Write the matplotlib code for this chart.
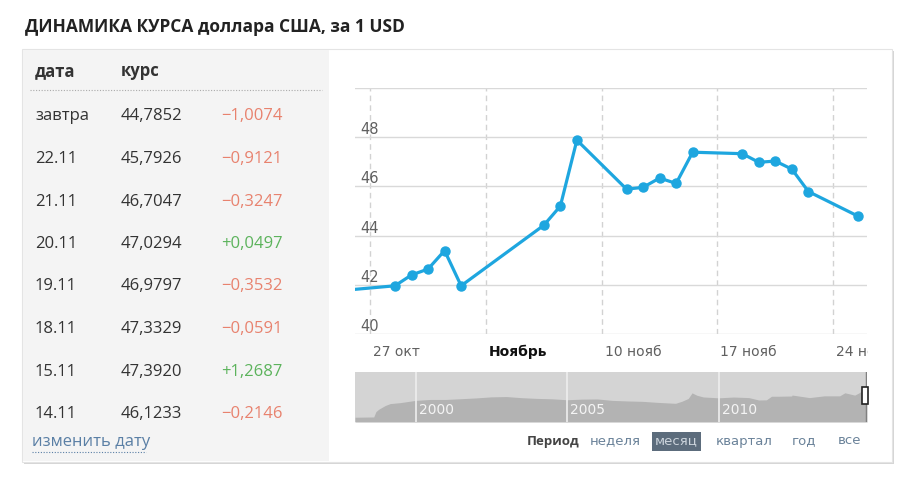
import matplotlib
matplotlib.use("Agg")
import matplotlib.pyplot as plt
import matplotlib.transforms as mtransforms
from matplotlib.patches import Rectangle
import pandas as pd

# ---------------- data ----------------
title = "ДИНАМИКА КУРСА доллара США, за 1 USD"

table_header = ["дата", "курс"]
table_dates = ["завтра", "22.11", "21.11", "20.11", "19.11", "18.11", "15.11", "14.11"]
table_rates = ["44,7852", "45,7926", "46,7047", "47,0294", "46,9797", "47,3329", "47,3920", "46,1233"]
table_changes = ["−1,0074", "−0,9121", "−0,3247", "+0,0497", "−0,3532", "−0,0591", "+1,2687", "−0,2146"]

rate_dates = ["2014-10-25", "2014-10-28", "2014-10-29", "2014-10-30", "2014-10-31", "2014-11-01",
              "2014-11-06", "2014-11-07", "2014-11-08", "2014-11-11", "2014-11-12", "2014-11-13",
              "2014-11-14", "2014-11-15", "2014-11-18", "2014-11-19", "2014-11-20", "2014-11-21",
              "2014-11-22", "2014-11-25"]
rate_values = [41.78, 41.96, 42.40, 42.64, 43.39, 41.96,
               44.42, 45.20, 47.88, 45.89, 45.96, 46.34,
               46.12, 47.39, 47.33, 46.98, 47.03, 46.70,
               45.79, 44.79]

week_ticks = ["2014-10-27", "2014-11-03", "2014-11-10", "2014-11-17", "2014-11-24"]
week_labels = ["27 окт", "Ноябрь", "10 нояб", "17 нояб", "24 нояб"]
y_ticks = [40, 42, 44, 46, 48, 50]
y_labels = ["40", "42", "44", "46", "48", ""]

# long history for the navigator strip
nav_dates = ["1998-01-01", "1998-08-15", "1998-09-10", "1998-10-15", "1998-12-31", "1999-03-01",
             "1999-06-30", "1999-12-31", "2000-06-30", "2000-12-31", "2001-06-30", "2001-12-31",
             "2002-06-30", "2002-12-31", "2003-06-30", "2003-12-31", "2004-06-30", "2004-12-31",
             "2005-06-30", "2005-12-31", "2006-06-30", "2006-12-31", "2007-06-30", "2007-12-31",
             "2008-06-30", "2008-08-01", "2008-10-15", "2008-12-31", "2009-02-15", "2009-04-15",
             "2009-06-30", "2009-12-31", "2010-06-30", "2010-12-31", "2011-04-30", "2011-07-31",
             "2011-10-01", "2011-12-31", "2012-05-31", "2012-06-05", "2012-12-31", "2013-06-30",
             "2013-12-31", "2014-03-03", "2014-06-30", "2014-08-31", "2014-10-31", "2014-11-25"]
nav_values = [5.96, 6.3, 13.0, 16.0, 20.6, 23.0,
              24.2, 27.0, 28.2, 28.2, 29.1, 30.1,
              31.4, 31.8, 30.4, 29.5, 29.0, 27.8,
              28.6, 28.8, 27.0, 26.3, 25.8, 24.5,
              23.5, 23.4, 25.9, 29.4, 36.4, 33.4,
              31.3, 30.2, 31.2, 30.5, 27.5, 27.7,
              32.2, 32.2, 32.5, 33.7, 30.5, 32.7,
              32.7, 36.5, 33.6, 37.0, 43.4, 44.8]
nav_years = [2000, 2005, 2010]

periods = ["неделя", "месяц", "квартал", "год", "все"]
active_period = "месяц"

# ---------------- figure ----------------
W, H = 900, 496
fig = plt.figure(figsize=(W / 100, H / 100), dpi=100)
fig.patch.set_facecolor("white")
plt.rcParams['font.family'] = ['DejaVu Sans']
sans = ['Open Sans', 'DejaVu Sans']


def fx(px):
    return px / W


def fy(py):
    return 1 - py / H


# background layer in pixel coordinates
bg = fig.add_axes([0, 0, 1, 1], zorder=-10)
bg.set_xlim(0, W)
bg.set_ylim(H, 0)
bg.axis('off')

# card with shadow, grey table panel
bg.add_patch(Rectangle((24, 51), 870, 413, fc='#d6d6d6', ec='none'))
bg.add_patch(Rectangle((22, 49), 870, 413, fc='white', ec='#e4e4e4', lw=0.8))
bg.add_patch(Rectangle((23, 50), 306, 411, fc='#f4f4f4', ec='none'))

bg.text(25, 27, title, family=sans, fontsize=12.5, fontweight='bold', color='#222222',
        ha='left', va='center')

# table
bg.text(35, 71, table_header[0], family=sans, fontsize=12, fontweight='bold', color='#333333', va='center')
bg.text(121, 71, table_header[1], family=sans, fontsize=12, fontweight='bold', color='#333333', va='center')
bg.plot([30, 322], [89.5, 89.5], ls=(0, (1, 1.5)), color='#aaaaaa', lw=0.8)
for i, (d, r, c) in enumerate(zip(table_dates, table_rates, table_changes)):
    yy = 116.5 + i * 42.5
    col = '#5cb35c' if c.startswith('+') else '#e8826e'
    bg.text(35, yy, d, family=sans, fontsize=12, color='#333333', va='center')
    bg.text(121, yy, r, family=sans, fontsize=12, color='#333333', va='center')
    bg.text(221, yy, c, family=sans, fontsize=12, color=col, va='center')

bg.text(32, 442, "изменить дату", family=sans, fontsize=12, color='#5a7fa5', va='center')
bg.plot([32, 146], [452, 452], ls=(0, (1, 1.5)), color='#5a7fa5', lw=0.8)

# period selector
bg.text(527, 441, "Период", family=sans, fontsize=9.5, fontweight='bold', color='#444444', va='center')
period_x = [590, 655, 716, 792, 838]
for px, p in zip(period_x, periods):
    if p == active_period:
        bg.add_patch(Rectangle((px - 3, 432), 49, 19, fc='#5c6c7c', ec='none'))
        bg.text(px, 441, p, fontsize=9.5, color='#ccd4dc', va='center')
    else:
        bg.text(px, 441, p, fontsize=9.5, color='#6a8299', va='center')

# ---------------- main chart ----------------
ax = fig.add_axes([fx(355), fy(334), fx(512), 246 / H])
ax.set_facecolor('none')
rate_x = pd.to_datetime(rate_dates) + pd.Timedelta(hours=12)  # points drawn at midday
ax.plot(rate_x, rate_values, color='#1ea6df', lw=2.3, marker='o', ms=6.5, zorder=3)

ax.set_xlim(pd.Timestamp("2014-10-26 02:00"), pd.Timestamp("2014-11-26 01:00"))
ax.set_ylim(40, 50)
ax.set_yticks(y_ticks)
ax.set_yticklabels(y_labels)
ax.set_xticks(pd.to_datetime(week_ticks))
ax.set_xticklabels(week_labels)
for s in ax.spines.values():
    s.set_visible(False)
ax.grid(axis='y', color='#d9d9d9', lw=1)
ax.grid(axis='x', color='#d2d2d2', lw=1, ls=(0, (4, 3)))
ax.set_axisbelow(True)

ax.tick_params(axis='y', length=0, pad=-3.5, labelsize=10.5, labelcolor='#606060')
ax.tick_params(axis='x', length=0, pad=8, labelsize=10, labelcolor='#606060')
for lbl in ax.get_yticklabels():
    lbl.set_ha('left')
    lbl.set_va('bottom')

clip = mtransforms.TransformedBbox(mtransforms.Bbox([[0, 0], [868 / W, 1]]), fig.transFigure)
offset = mtransforms.ScaledTranslation(3 / 100, 0, fig.dpi_scale_trans)
for lbl in ax.get_xticklabels():
    lbl.set_ha('left')
    lbl.set_transform(lbl.get_transform() + offset)
    lbl.set_clip_box(clip)
    lbl.set_clip_on(True)
    if lbl.get_text() == "Ноябрь":
        lbl.set_fontweight('bold')
        lbl.set_color('#111111')

# ---------------- navigator ----------------
nav = fig.add_axes([fx(355), fy(422), fx(512), 50 / H])
nav.set_facecolor('#d4d4d4')
nav_x = pd.to_datetime(nav_dates)
nav.fill_between(nav_x, nav_values, color='#b3b3b3', lw=0)
nav.set_xlim(nav_x[0], nav_x[-1])
nav.set_ylim(0, 62.5)
nav.set_xticks([])
nav.set_yticks([])
for s in nav.spines.values():
    s.set_visible(False)
nav_off = mtransforms.ScaledTranslation(3 / 100, 0, fig.dpi_scale_trans)
for yr in nav_years:
    d = pd.Timestamp(f"{yr}-01-01")
    nav.axvline(d, color='#eeeeee', lw=1.2)
    nav.text(d, 0.24, str(yr), transform=nav.get_xaxis_transform() + nav_off,
             fontsize=10, color='#f4f4f4', ha='left', va='center')
nav.axvline(nav_x[-1], color='#808080', lw=2.5)

# navigator handle
fig.add_artist(Rectangle((fx(862), fy(404)), 6 / W, 17 / H, transform=fig.transFigure,
                         fc='white', ec='#222222', lw=1.2))

fig.savefig("out.png", dpi=100)
